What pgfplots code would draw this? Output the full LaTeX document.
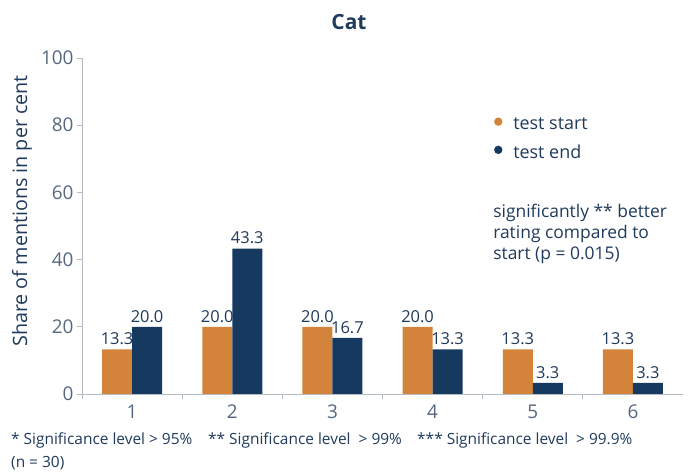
\documentclass[border=0pt]{standalone}
\usepackage{pgfplots}
\pgfplotsset{compat=1.18}
\usepackage{fontspec}
\setmainfont{Open Sans}
\definecolor{corange}{HTML}{D4843A}
\definecolor{cblue}{HTML}{163A5F}
\definecolor{textblue}{HTML}{1F3A5C}
\definecolor{ticktext}{HTML}{566880}
\definecolor{axisgray}{HTML}{B4BBC3}
\begin{document}
\begin{tikzpicture}
\useasboundingbox (-82bp,-79bp) rectangle (609bp,394bp);
\pgfplotsset{circlegend/.style={legend image code/.code={\path (-5bp,0bp) (5bp,0.6em); \fill[##1] (0bp,0.3em) circle (4.2bp);}}}
\begin{axis}[
  at={(0,0)}, anchor=south west,
  scale only axis, width=601bp, height=336bp,
  xmin=0.5, xmax=6.5, ymin=0, ymax=100,
  ybar=0pt, bar width=30bp,
  axis x line*=bottom, axis y line*=left,
  axis line style={draw=axisgray, line width=0.8bp, -},
  xtick={1,...,6}, minor xtick={0.5,1.5,...,5.5},
  ytick={0,20,...,100},
  tick align=outside,
  major tick length=5bp, minor tick length=5bp,
  tick style={draw=axisgray, line width=0.8bp},
  major x tick style={draw=none},
  /pgf/number format/assume math mode=true,
  tick label style={font=\fontsize{19}{19}\selectfont, text=ticktext},
  xticklabel style={yshift=-2bp},
  nodes near coords,
  every node near coord/.append style={font=\fontsize{16.5}{16.5}\selectfont, text=textblue, yshift=1bp,
    /pgf/number format/fixed, /pgf/number format/fixed zerofill, /pgf/number format/precision=1},
  legend style={draw=none, fill=none, at={(0.684,0.828)}, anchor=north west,
    font=\fontsize{18}{18}\selectfont, text=textblue, row sep=10bp, inner sep=0pt,
    /tikz/every odd column/.append style={column sep=8bp}},
  legend cell align=left,
]
\addplot[fill=corange, draw=none, circlegend] coordinates {(1,13.3) (2,20.0) (3,20.0) (4,20.0) (5,13.3) (6,13.3)};
\addplot[fill=cblue, draw=none, circlegend] coordinates {(1,20.0) (2,43.3) (3,16.7) (4,13.3) (5,3.3) (6,3.3)};
\legend{test start, test end}
\node[anchor=north west, align=left, font=\fontsize{17.5}{21}\selectfont, text=textblue, inner sep=0pt]
  at (rel axis cs:0.684,0.565) {significantly ** better\\rating compared to\\start (p = 0.015)};
\end{axis}
\node[font=\bfseries\fontsize{21}{21}\selectfont, text=textblue] at (267bp,372bp) {Cat};
\node[rotate=90, font=\fontsize{19.8}{19.8}\selectfont, text=textblue] at (-60bp,183bp) {Share of mentions in per cent};
\node[anchor=west, inner sep=0pt, font=\fontsize{15.5}{15.5}\selectfont, text=textblue] at (-71bp,-46bp) {* Significance level > 95\%};
\node[anchor=west, inner sep=0pt, font=\fontsize{15.5}{15.5}\selectfont, text=textblue] at (126bp,-46bp) {** Significance level \ > 99\%};
\node[anchor=west, inner sep=0pt, font=\fontsize{15.5}{15.5}\selectfont, text=textblue] at (335bp,-46bp) {*** Significance level \ > 99.9\%};
\node[anchor=west, inner sep=0pt, font=\fontsize{15.5}{15.5}\selectfont, text=textblue] at (-71bp,-69bp) {(n = 30)};
\end{tikzpicture}
\end{document}
